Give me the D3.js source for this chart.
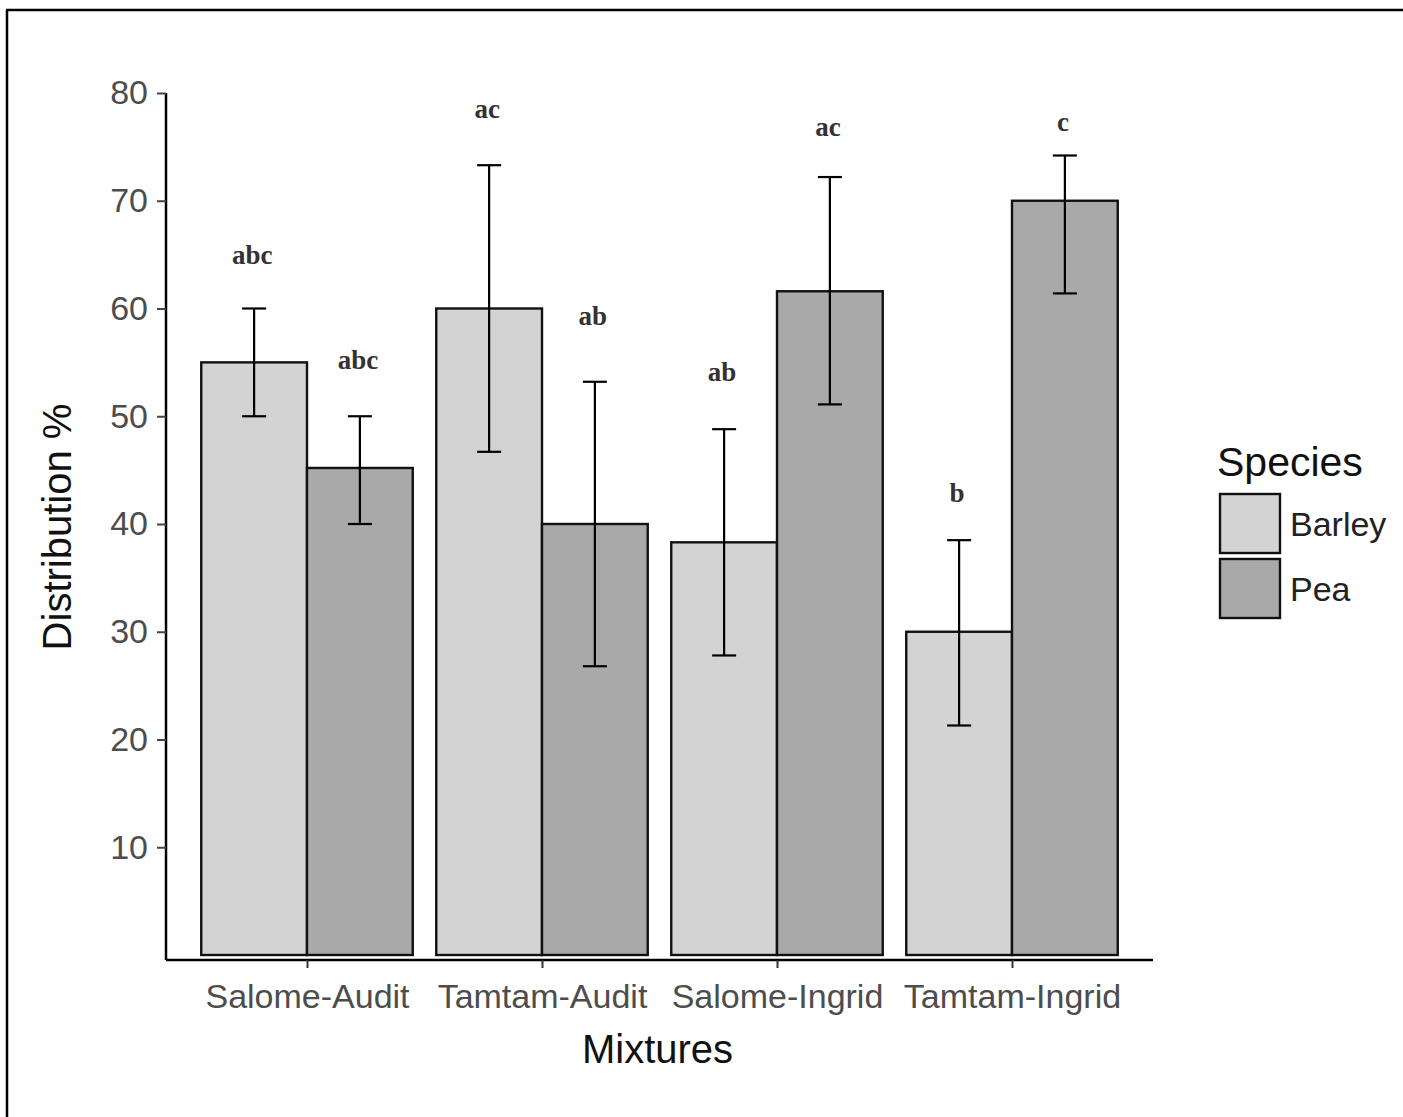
<!DOCTYPE html>
<html>
<head>
<meta charset="utf-8">
<script src="https://cdn.jsdelivr.net/npm/d3@7"></script>
<style>
  html, body { margin: 0; padding: 0; background: #fff; }
  svg { display: block; }
</style>
</head>
<body>
<svg id="chart" width="1403" height="1117"></svg>
<script>
// ---- data ----
const mixtures = ["Salome-Audit", "Tamtam-Audit", "Salome-Ingrid", "Tamtam-Ingrid"];
const species = ["Barley", "Pea"];
const barleyMean = [55, 60, 38.3, 30];
const barleyLow  = [50, 46.7, 27.8, 21.3];
const barleyHigh = [60, 73.3, 48.8, 38.5];
const peaMean = [45.2, 40, 61.6, 70];
const peaLow  = [40, 26.8, 51.1, 61.4];
const peaHigh = [50, 53.2, 72.2, 74.2];
const barleyLetters = ["abc", "ac", "ab", "b"];
const peaLetters    = ["abc", "ab", "ac", "c"];
const barleyLetterY = [65.0, 78.5, 54.1, 42.9];
const peaLetterY    = [55.2, 59.3, 76.8, 77.3];
const yTicks = [10, 20, 30, 40, 50, 60, 70, 80];

const rows = [];
mixtures.forEach((m, i) => {
  rows.push({mix: m, sp: "Barley", mean: barleyMean[i], lo: barleyLow[i], hi: barleyHigh[i], lab: barleyLetters[i], ly: barleyLetterY[i]});
  rows.push({mix: m, sp: "Pea", mean: peaMean[i], lo: peaLow[i], hi: peaHigh[i], lab: peaLetters[i], ly: peaLetterY[i]});
});

const svg = d3.select("#chart");
const fill = d3.scaleOrdinal().domain(species).range(["#d3d3d3", "#a9a9a9"]);

// outer frame (top and left edges visible)
svg.append("line").attr("x1", 6).attr("x2", 1403).attr("y1", 10).attr("y2", 10).attr("stroke", "#000").attr("stroke-width", 2.5);
svg.append("line").attr("x1", 7).attr("x2", 7).attr("y1", 10).attr("y2", 1117).attr("stroke", "#000").attr("stroke-width", 2.5);

const left = 166, right = 1153, axisY = 960;
const y = d3.scaleLinear().domain([0, 80]).range([955, 93]);
const x0 = d3.scalePoint().domain(mixtures).range([307, 1012]);
const step = x0.step();
const groupW = step * 0.9;
const x1 = d3.scaleBand().domain(species).range([-groupW / 2, groupW / 2]).padding(0);

// bars
const g = svg.append("g");
g.selectAll("rect.bar").data(rows).join("rect")
  .attr("class", "bar")
  .attr("x", d => x0(d.mix) + x1(d.sp))
  .attr("y", d => y(d.mean))
  .attr("width", x1.bandwidth())
  .attr("height", d => y(0) - y(d.mean))
  .attr("fill", d => fill(d.sp))
  .attr("stroke", "#111").attr("stroke-width", 2.4);

// error bars
const capW = 24;
const eb = g.selectAll("g.eb").data(rows).join("g").attr("class", "eb")
  .attr("transform", d => `translate(${x0(d.mix) + x1(d.sp) + x1.bandwidth() / 2},0)`);
eb.append("line").attr("x1", 0).attr("x2", 0).attr("y1", d => y(d.lo)).attr("y2", d => y(d.hi)).attr("stroke", "#000").attr("stroke-width", 2.2);
eb.append("line").attr("x1", -capW / 2).attr("x2", capW / 2).attr("y1", d => y(d.lo)).attr("y2", d => y(d.lo)).attr("stroke", "#000").attr("stroke-width", 2.2);
eb.append("line").attr("x1", -capW / 2).attr("x2", capW / 2).attr("y1", d => y(d.hi)).attr("y2", d => y(d.hi)).attr("stroke", "#000").attr("stroke-width", 2.2);

// letters
g.selectAll("text.lab").data(rows).join("text")
  .attr("class", "lab")
  .attr("x", d => x0(d.mix) + x1(d.sp) + x1.bandwidth() / 2 - 2)
  .attr("y", d => y(d.ly))
  .attr("dy", "0.33em")
  .attr("text-anchor", "middle")
  .attr("font-family", "'Liberation Serif', 'Times New Roman', serif")
  .attr("font-weight", "bold")
  .attr("font-size", 27)
  .attr("fill", "#333")
  .text(d => d.lab);

// y axis
const yAxis = svg.append("g").attr("transform", `translate(${left},0)`)
  .call(d3.axisLeft(y).tickValues(yTicks).tickSize(9).tickPadding(9).tickSizeOuter(0));
yAxis.select(".domain").attr("d", `M0,${y(80)}V${axisY}`).attr("stroke", "#000").attr("stroke-width", 2.5);
yAxis.selectAll(".tick line").attr("stroke", "#444").attr("stroke-width", 2);
yAxis.selectAll(".tick text").attr("font-family", "'Liberation Sans', Arial, sans-serif").attr("font-size", 34).attr("fill", "#4d4d4d");

// x axis
const xAxis = svg.append("g").attr("transform", `translate(0,${axisY})`)
  .call(d3.axisBottom(x0).tickSize(8).tickPadding(11).tickSizeOuter(0));
xAxis.select(".domain").attr("d", `M${left},0H${right}`).attr("stroke", "#000").attr("stroke-width", 2.5);
xAxis.selectAll(".tick line").attr("stroke", "#333").attr("stroke-width", 2);
xAxis.selectAll(".tick text").attr("font-family", "'Liberation Sans', Arial, sans-serif").attr("font-size", 34).attr("fill", "#4d4d4d").attr("dy", "0.85em");

// axis titles
svg.append("text").attr("x", (left + right) / 2 - 2).attr("y", 1063).attr("text-anchor", "middle")
  .attr("font-family", "'Liberation Sans', Arial, sans-serif").attr("font-size", 40).attr("fill", "#111").text("Mixtures");
svg.append("text").attr("transform", `translate(71,527) rotate(-90)`).attr("text-anchor", "middle")
  .attr("font-family", "'Liberation Sans', Arial, sans-serif").attr("font-size", 40).attr("fill", "#111").text("Distribution %");

// legend
const lg = svg.append("g");
lg.append("text").attr("x", 1217).attr("y", 476).attr("font-family", "'Liberation Sans', Arial, sans-serif").attr("font-size", 41).attr("fill", "#111").text("Species");
const li = lg.selectAll("g.li").data(species).join("g").attr("class", "li")
  .attr("transform", (d, i) => `translate(1220,${494 + i * 65})`);
li.append("rect").attr("width", 60).attr("height", 59).attr("fill", d => fill(d)).attr("stroke", "#111").attr("stroke-width", 2.4);
li.append("text").attr("x", 70).attr("y", 30).attr("dy", "0.35em")
  .attr("font-family", "'Liberation Sans', Arial, sans-serif").attr("font-size", 34).attr("fill", "#222").text(d => d);
</script>
</body>
</html>
